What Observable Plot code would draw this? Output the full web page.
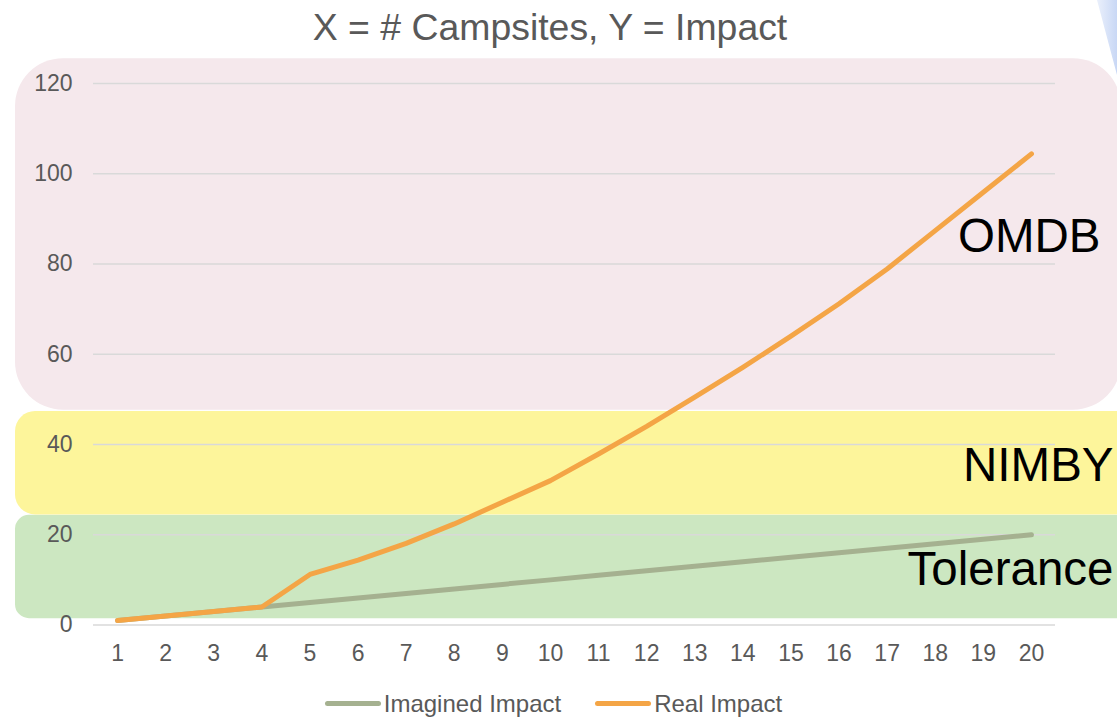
<!DOCTYPE html>
<html>
<head>
<meta charset="utf-8">
<script src="https://cdn.jsdelivr.net/npm/d3@7"></script>
<script src="https://cdn.jsdelivr.net/npm/@observablehq/plot@0.6"></script>
<style>
  html, body { margin: 0; padding: 0; background: #fff; width: 1117px; height: 718px; overflow: hidden; }
  body { font-family: "Liberation Sans", Arial, sans-serif; position: relative; }
  #deco { position: absolute; left: 1092px; top: 0; width: 25px; height: 75px; background: linear-gradient(to right, #f3f6fd, #c8d7f5); clip-path: polygon(20% 0, 100% 0, 100% 100%); }
  #title { position: absolute; left: 0; top: 5px; width: 1100px; text-align: center; font-size: 37.4px; color: #595959; line-height: 44px; }
  #chart { position: absolute; left: 0; top: 55px; }
  #legend { position: absolute; left: 0; top: 688px; width: 1107px; display: flex; justify-content: center; gap: 34px; font-size: 24px; color: #595959; line-height: 31px; }
  .item { display: flex; align-items: center; }
  .sw { width: 56px; height: 5px; border-radius: 3px; margin-right: 3px; }
</style>
</head>
<body>
<div id="deco"></div>
<div id="title">X = # Campsites, Y = Impact</div>
<div id="chart"></div>
<div id="legend"></div>
<script>
const campsites = [1,2,3,4,5,6,7,8,9,10,11,12,13,14,15,16,17,18,19,20];
const imaginedImpact = [1,2,3,4,5,6,7,8,9,10,11,12,13,14,15,16,17,18,19,20];
const realImpact = [1,2,3,4,11.2,14.4,18.1,22.4,27.2,32,37.9,44,50.5,57.1,64,71.2,78.9,87.4,95.9,104.4];
const yTicks = [0,20,40,60,80,100,120];
const seriesNames = ["Imagined Impact", "Real Impact"];
const seriesColors = ["#a5b190", "#f4a546"];
const bandNames = ["Tolerance", "NIMBY", "OMDB"];
const bandLow = [1.4, 24.4, 47.6];
const bandHigh = [24.3, 47.3, 125.5];
const bandColors = ["#cce7c1", "#fdf59b", "#f5e8ec"];
const bandRadius = [14, 20, 48];

const imagined = campsites.map((x, i) => ({x, y: imaginedImpact[i]}));
const real = campsites.map((x, i) => ({x, y: realImpact[i]}));
const bands = bandNames.map((name, i) => ({name, lo: bandLow[i], hi: bandHigh[i], mid: (bandLow[i] + bandHigh[i]) / 2, color: bandColors[i], r: bandRadius[i]}));

const marginLeft = 93, marginRight = 62;
const plot = Plot.plot({
  width: 1117,
  height: 620,
  marginLeft,
  marginRight,
  marginTop: 28,
  marginBottom: 50.5,
  style: { fontFamily: '"Liberation Sans", Arial, sans-serif', fontSize: "23px", color: "#595959", background: "transparent", overflow: "visible" },
  x: { domain: [0.5, 20.5], ticks: campsites, tickFormat: d => String(d), label: null },
  y: { domain: [0, 120], ticks: yTicks, label: null },
  marks: [
    ...bands.map(b => Plot.rect([b], {
      y1: "lo", y2: "hi", fill: "color", rx: b.r,
      insetLeft: -(marginLeft - 15), insetRight: -(b.name === "OMDB" ? 66 : 110)
    })),
    Plot.gridY(yTicks, { stroke: "#d9d9d9", strokeOpacity: 1, strokeWidth: 1.6 }),
    Plot.axisX(campsites, { tickSize: 0, tickPadding: 20, fill: "#595959", fontSize: 23 }),
    Plot.axisY(yTicks, { tickSize: 0, tickPadding: 21, fill: "#595959", fontSize: 23 }),
    Plot.line(imagined, { x: "x", y: "y", stroke: seriesColors[0], strokeWidth: 5, strokeLinecap: "round", strokeLinejoin: "round" }),
    Plot.line(real, { x: "x", y: "y", stroke: seriesColors[1], strokeWidth: 5, strokeLinecap: "round", strokeLinejoin: "round" }),
    ...bands.map(b => Plot.text([b], { y: "mid", text: "name", frameAnchor: "right", dx: b.name === "OMDB" ? 45 : 58, dy: 2.5, textAnchor: "end", fill: "#000", fontSize: 47.5, lineAnchor: "middle" }))
  ]
});
document.getElementById("chart").appendChild(plot);

const legend = document.getElementById("legend");
seriesNames.forEach((name, i) => {
  const item = document.createElement("div");
  item.className = "item";
  const sw = document.createElement("div");
  sw.className = "sw";
  sw.style.background = seriesColors[i];
  const t = document.createElement("span");
  t.textContent = name;
  item.appendChild(sw);
  item.appendChild(t);
  legend.appendChild(item);
});
</script>
</body>
</html>
